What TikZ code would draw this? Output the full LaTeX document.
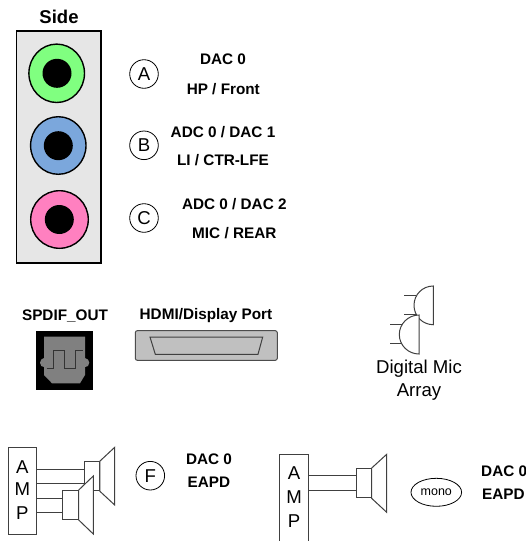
\documentclass[tikz,border=0pt]{standalone}
\usepackage{fontspec}
\setmainfont{Liberation Sans}
\usetikzlibrary{shapes.geometric}
\definecolor{panelgray}{HTML}{E6E6E6}
\definecolor{jackgreen}{HTML}{80FF80}
\definecolor{jackblue}{HTML}{7BA7DC}
\definecolor{jackpink}{HTML}{FF80C0}
\definecolor{optgray}{HTML}{808080}
\definecolor{portgray}{HTML}{C0C0C0}
\tikzset{
  lbl/.style={inner sep=0pt,font=\fontsize{15.3}{18}\selectfont\bfseries},
  sidelbl/.style={inner sep=0pt,font=\fontsize{18.5}{22}\selectfont\bfseries},
  reg/.style={inner sep=0pt,font=\fontsize{18.6}{22}\selectfont},
  letter/.style={circle,draw=black,line width=.8pt,minimum size=28.6pt,inner sep=0pt,font=\fontsize{18.6}{22}\selectfont},
  jackring/.style={ellipse,draw=black,line width=1.4pt,inner sep=0pt},
  jackhole/.style={circle,fill=black,inner sep=0pt,minimum size=29pt},
  box/.style={rectangle,draw=black!75,line width=1pt,fill=white,inner sep=0pt},
  wire/.style={draw=black!75,line width=1pt},
  mono/.style={ellipse,draw=black,line width=.8pt,inner sep=0pt,minimum width=50.6pt,minimum height=28pt,font=\fontsize{12.5}{15}\selectfont}
}
\begin{document}
\begin{tikzpicture}[x=1pt,y=-1pt]
\useasboundingbox (0,0) rectangle (525,541);
\fill[white] (0,0) rectangle (525,541);
% Side panel
\node[sidelbl] (side) at (59,16.7) {Side};
\node[rectangle,draw=black,line width=1.3pt,fill=panelgray,minimum width=84.7pt,minimum height=232pt,inner sep=0pt] (panel) at (58.7,147) {};
\node[jackring,fill=jackgreen,minimum width=55.6pt,minimum height=58.4pt] (jackA) at (56.7,73.3) {};
\node[jackhole] (holeA) at (57,73.3) {};
\node[jackring,fill=jackblue,minimum width=55.4pt,minimum height=57.6pt] (jackB) at (58.3,145.5) {};
\node[jackhole] (holeB) at (58.3,145.7) {};
\node[jackring,fill=jackpink,minimum width=57.6pt,minimum height=57.6pt] (jackC) at (59.5,219.5) {};
\node[jackhole] (holeC) at (59.3,219.5) {};
\node[letter] (cA) at (144,74) {A};
\node[letter] (cB) at (144,145.3) {B};
\node[letter] (cC) at (144,218) {C};
\node[lbl] (a1) at (223,59.3) {DAC 0};
\node[lbl] (a2) at (223.3,88.7) {HP / Front};
\node[lbl] (b1) at (223,131.7) {ADC 0 / DAC 1};
\node[lbl] (b2) at (223,160.3) {LI / CTR-LFE};
\node[lbl] (c1) at (234.3,204.3) {ADC 0 / DAC 2};
\node[lbl] (c2) at (234.3,233) {MIC / REAR};
% SPDIF
\node[lbl] (spdif) at (65,316) {SPDIF\_OUT};
\fill[black] (36,331) rectangle (93,389.7);
\fill[optgray] (44,336.7) -- (85,336.7) -- (85,358) -- (88,359.5) -- (89.3,362.7) -- (88,366) -- (85,367) -- (85,375) -- (80,383.3) -- (52,383.3) -- (44,375) -- (44,367) -- (41.3,366) -- (40,362.7) -- (41.3,359.5) -- (44,358) -- cycle;
\draw[black!80,line width=1pt] (46.7,368.3) -- (53.3,368.3) -- (53.3,350.7) -- (64,350.7) -- (64,368.3) -- (75.7,368.3) -- (75.7,350.7) -- (83.3,350.7);
% HDMI
\node[lbl] (hdmi) at (206,315.7) {HDMI/Display Port};
\draw[black!70,line width=1pt,fill=portgray,rounded corners=2pt] (135.3,330.7) rectangle (277.3,360.3);
\draw[black!75,line width=1pt,fill=portgray] (150,337) -- (262.7,337) -- (258,354.3) -- (155.3,354.3) -- cycle;
% Mic array
\draw[wire] (404,295.7) -- (416,295.7) (404,314.5) -- (418,314.5);
\draw[wire,fill=white] (433.3,286) .. controls (422.5,286) and (414,294.6) .. (414,305.3) .. controls (414,316) and (422.5,324.7) .. (433.3,324.7) -- cycle;
\draw[wire] (390,324.3) -- (402,324.3) (390,343.7) -- (402,343.7);
\draw[wire,fill=white] (419,315) .. controls (408.2,315) and (399.3,323.9) .. (399.3,334.5) .. controls (399.3,345.3) and (408.2,354) .. (419,354) -- cycle;
\node[reg] (dm1) at (419,369) {Digital Mic};
\node[reg] (dm2) at (419,392.3) {Array};
% Amp left
\node[box,minimum width=28.3pt,minimum height=87pt] (amp1) at (22.15,490.5) {};
\node[reg] (a1A) at (22.3,466.7) {A};
\node[reg] (a1M) at (22.3,489.3) {M};
\node[reg] (a1P) at (22.3,513.3) {P};
\node[box,minimum width=15.3pt,minimum height=29pt] (spk1) at (91.65,476.2) {};
\draw[wire] (amp1.east |- 0,469) -- (spk1.west |- 0,469);
\draw[wire] (amp1.east |- 0,483) -- (spk1.west |- 0,483);
\draw[wire,fill=white] (spk1.north east) -- (114.7,447.3) -- (114.7,505) -- (spk1.south east) -- cycle;
\node[box,minimum width=15.3pt,minimum height=28.6pt] (spk2) at (70.35,505) {};
\draw[wire] (amp1.east |- 0,498) -- (spk2.west |- 0,498);
\draw[wire] (amp1.east |- 0,512.3) -- (spk2.west |- 0,512.3);
\draw[wire,fill=white] (spk2.north east) -- (93.3,476) -- (93.3,534) -- (spk2.south east) -- cycle;
\node[letter] (cF) at (150.3,475.7) {F};
\node[lbl] (f1) at (209,459.7) {DAC 0};
\node[lbl] (f2) at (209,482.7) {EAPD};
% Amp right
\node[box,minimum width=28.6pt,minimum height=88pt] (amp2) at (294,498.3) {};
\node[reg] (a2A) at (294,473.3) {A};
\node[reg] (a2M) at (294,497.3) {M};
\node[reg] (a2P) at (294,521) {P};
\node[box,minimum width=15pt,minimum height=29pt] (spk3) at (363.5,483.2) {};
\draw[wire] (amp2.east |- 0,475.7) -- (spk3.west |- 0,475.7);
\draw[wire] (amp2.east |- 0,490.3) -- (spk3.west |- 0,490.3);
\draw[wire,fill=white] (spk3.north east) -- (386.7,454.3) -- (386.7,512.3) -- (spk3.south east) -- cycle;
\node[mono] (monoe) at (436.3,492.3) {mono};
\node[lbl,anchor=west] (g1) at (481,471) {DAC 0};
\node[lbl,anchor=west] (g2) at (482,494) {EAPD};
\end{tikzpicture}
\end{document}
